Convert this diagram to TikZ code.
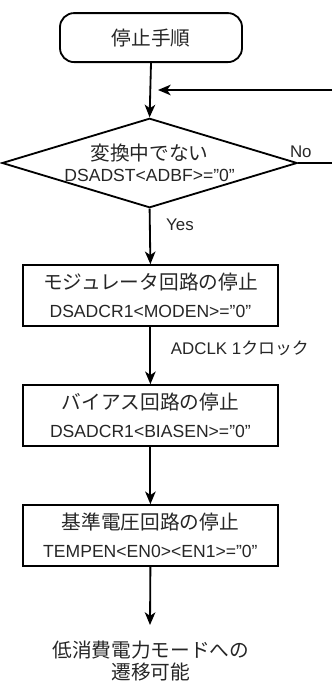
\documentclass[tikz,border=0pt]{standalone}
\usepackage{fontspec}
\setmainfont{Liberation Sans}
\newfontfamily\jp{Noto Sans CJK JP}
\usepackage{tikz}
\usetikzlibrary{arrows.meta,positioning,shapes.geometric}

\newcommand{\jtext}[1]{{\jp\fontsize{14}{20}\selectfont #1}}

\begin{document}
\begin{tikzpicture}[
    every node/.style={text=black!85},
    terminal/.style={rectangle, rounded corners=10pt, draw=black, line width=1.3pt,
                     minimum width=45.5mm, minimum height=12.25mm,
                     font=\jp\fontsize{14}{16}\selectfont},
    decision/.style={diamond, aspect=3.3, draw=black, line width=1.3pt, inner sep=0pt,
                     minimum width=68.75mm, minimum height=20.75mm, align=center,
                     font=\fontsize{12.5}{15}\selectfont},
    process/.style={rectangle, draw=black, line width=1.3pt,
                    minimum width=63.75mm, minimum height=15.25mm, align=center,
                    font=\fontsize{12.5}{20}\selectfont},
    lbl/.style={font=\fontsize{12}{14}\selectfont},
    arr/.style={-{Stealth[length=9pt, width=7.5pt, inset=2.5pt]}, black, line width=1.3pt},
    line/.style={black, line width=1.3pt}
  ]
  \useasboundingbox (0,0) rectangle (8.3,-17.025);

  \node[terminal] (start) at (3.775,-0.94) {停止手順};
  \node[decision] (busy) at (3.74,-4.075)
    {{\jp\fontsize{14}{15}\selectfont 変換中でない}\\DSADST<ADBF>="0"};
  \node[process] (mod) at (3.76,-7.39)
    {\jtext{モジュレータ回路の停止}\\DSADCR1<MODEN>=”0”};
  \node[process] (bias) at (3.76,-10.39)
    {\jtext{バイアス回路の停止}\\DSADCR1<BIASEN>=”0”};
  \node[process] (vref) at (3.76,-13.39)
    {\jtext{基準電圧回路の停止}\\TEMPEN<EN0><EN1>=”0”};
  \node[align=center, font=\jp\fontsize{14}{16}\selectfont] (done) at (3.77,-16.53)
    {低消費電力モードへの\\遷移可能};

  % loop back from the right edge
  \coordinate (loopin)  at (8.3,-2.25);
  \coordinate (looptip) at (3.95,-2.25);
  \coordinate (noout)   at (8.3,-4.075);
  \coordinate (donetip) at (3.75,-15.625);

  \draw[arr] (start.south) -- (busy.north);
  \draw[arr] (loopin) -- (looptip);
  \draw[line] (busy.east) -- (noout);
  \draw[arr] (busy.south) -- (mod.north);
  \draw[arr] (mod.south) -- (bias.north);
  \draw[arr] (bias.south) -- (vref.north);
  \draw[arr] (vref.south) -- (donetip);

  \node[lbl] (no)  at (7.52,-3.8)  {No};
  \node[lbl] (yes) at (4.5,-5.63)  {Yes};
  \node[lbl, anchor=west] (clk) at (4.15,-8.7) {ADCLK 1{\jp\fontsize{12}{14}\selectfont クロック}};
\end{tikzpicture}
\end{document}
